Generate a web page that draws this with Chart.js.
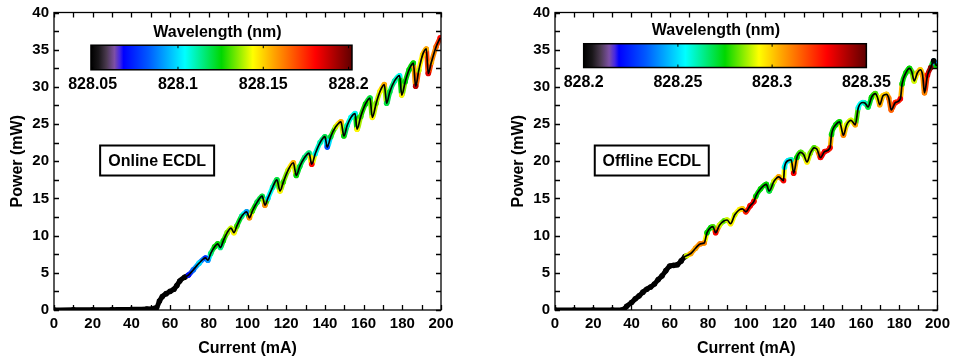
<!DOCTYPE html>
<html>
<head>
<meta charset="utf-8">
<script src="https://cdn.jsdelivr.net/npm/chart.js@4.4.1/dist/chart.umd.min.js"></script>
<style>
  html, body { margin: 0; padding: 0; background: #fff; }
  #wrap { display: flex; width: 956px; height: 360px; }
  canvas { display: block; }
</style>
</head>
<body>
<div id="wrap">
  <canvas id="online" width="478" height="360"></canvas>
  <canvas id="offline" width="478" height="360"></canvas>
</div>
<script>
// ---- Online ECDL: L-I curve (mA, mW) with measured wavelength (nm); null = not measured ----
const onlineCurrent = [
  0, 10, 20, 30, 40, 48, 52, 53, 54.5, 56, 58, 60, 62, 63.5, 65, 67.5,
  69.5, 72, 75, 78.3,   79.5, 81, 83, 84.6,   86, 87.5, 89.5, 91.5,
  93, 94.5, 97, 99.6,   101, 102.5, 105, 107.6,   109, 110.5, 113, 115.2,
  116.8, 118.5, 121, 123.7,   125.2, 127, 129.5, 131.8,   133.2, 135, 137.5, 140,
  141.2, 143, 145.5, 148.3,   149.8, 151.5, 153.5, 155.6,   156.6, 158.5, 161, 163.3,
  164.5, 166.5, 168.5, 170.7,   171.9, 173.5, 176, 178.6,   179.7, 181.5, 183.5, 185.7,
  186.9, 188.5, 190.5, 192.4,   193.4, 195, 197.5, 199.6
];
const onlinePower = [
  0, 0.02, 0.03, 0.05, 0.08, 0.14, 0.22, 0.3, 1.2, 1.8, 2.2, 2.5, 2.8, 3.3, 3.9, 4.4,
  4.7, 5.4, 6.3, 7.0,   6.7, 7.6, 8.5, 8.9,   8.4, 9.3, 10.4, 11.0,
  10.4, 11.3, 12.6, 13.2,   12.4, 13.3, 14.5, 15.3,   14.1, 15.0, 16.5, 17.5,
  16.0, 17.2, 18.8, 19.8,   18.1, 19.3, 20.5, 21.1,   19.6, 21.0, 22.5, 23.3,
  21.9, 23.3, 24.6, 25.3,   23.4, 24.8, 25.9, 26.4,   24.3, 26.0, 27.7, 28.5,
  25.9, 27.8, 29.4, 30.3,   27.8, 29.3, 30.8, 31.5,   28.9, 30.7, 32.3, 33.2,
  30.1, 32.2, 34.3, 35.1,   31.8, 33.3, 35.4, 36.6
];
const onlineWavelength = [
  null, null, null, null, null, null, null, null, null, null, null, null, null, null, null, null,
  828.07, 828.085, 828.1, 828.075,   828.09, 828.115, 828.125, 828.125,   828.115, 828.125, 828.135, 828.14,
  828.145, 828.13, 828.115, 828.09,   828.16, 828.13, 828.12, 828.12,   828.16, 828.1, 828.11, 828.12,
  828.145, 828.13, 828.14, 828.155,   828.125, 828.12, 828.115, 828.115,   828.18, 828.105, 828.11, 828.12,
  828.08, 828.12, 828.14, 828.155,   828.125, 828.11, 828.105, 828.105,   828.145, 828.13, 828.125, 828.12,
  828.145, 828.135, 828.145, 828.155,   828.12, 828.12, 828.11, 828.105,   828.145, 828.125, 828.125, 828.125,
  828.19, 828.14, 828.15, 828.155,   828.185, 828.155, 828.165, 828.18
];
const onlineBarTicks = [828.05, 828.1, 828.15, 828.2];
const onlineBarLabels = ['828.05', '828.1', '828.15', '828.2'];
const onlineBarRange = [828.049, 828.202];

// ---- Offline ECDL ----
const offlineCurrent = [
  0, 10, 20, 30, 35, 36, 37.5, 40, 42, 44, 46, 48, 50, 52, 54, 56, 58, 60, 62, 64, 66, 68,
  68.8, 71, 73.5, 76, 78,   79.5, 81.5, 82.6, 84,   86, 88.5, 90, 91.8,   94, 96.5, 98, 99.8,
  102, 104, 105, 107.5, 110.5, 112,   114.5, 117, 119.5,   120, 122, 123.5, 124.8,
  126.5, 128.5, 130, 131.8,   133.5, 135.5, 137, 138.8,   141, 143.8,
  144.6, 146.8, 148.8, 150.8,   152.5, 154.8, 157,   158.6, 161, 162.2, 163.7,
  165.5, 167.5, 168.6, 169.8,   171.5, 173.3, 174.5, 175.8,   178, 180.6,
  181.5, 183.5, 185.3, 186.6, 187.8,   189.5, 191, 192.2, 193.2,   194.8, 196.5, 198, 199.5
];
const offlinePower = [
  0, 0, 0, 0, 0, 0.1, 0.5, 1.0, 1.5, 1.9, 2.4, 2.8, 3.1, 3.5, 4.1, 4.6, 5.3, 5.9, 6.0, 6.1, 6.6, 7.2,
  7.3, 7.6, 8.3, 8.9, 9.0,   10.4, 11.1, 11.2, 10.4,   11.4, 12.0, 12.1, 11.6,   12.8, 13.5, 13.6, 13.2,
  14.0, 14.6, 15.3, 16.3, 16.9, 16.0,   17.3, 17.9, 17.4,   19.2, 20.1, 20.2, 18.4,
  20.5, 21.2, 20.9, 19.9,   21.1, 21.8, 21.6, 20.5,   21.3, 21.8,
  23.6, 24.9, 25.3, 23.5,   24.9, 25.5, 24.9,   27.2, 27.9, 27.8, 27.3,
  28.6, 29.1, 28.6, 27.6,   28.8, 29.0, 28.5, 26.9,   27.9, 28.4,
  30.4, 31.9, 32.5, 32.0, 30.8,   31.9, 32.3, 31.6, 29.2,   31.6, 32.6, 33.5, 32.8
];
const offlineWavelength = [
  null, null, null, null, null, null, null, null, null, null, null, null, null, null, null, null, null, null, null, null, null, null,
  828.29, 828.305, 828.305, 828.31, 828.31,   828.275, 828.275, 828.28, 828.33,   828.29, 828.28, 828.29, 828.295,   828.29, 828.295, 828.3, 828.325,
  828.33, 828.33, 828.275, 828.275, 828.275, 828.27,   828.29, 828.305, 828.33,   828.255, 828.25, 828.26, 828.33,
  828.275, 828.28, 828.285, 828.295,   828.285, 828.28, 828.29, 828.33,   828.33, 828.33,
  828.275, 828.275, 828.275, 828.31,   828.29, 828.29, 828.305,   828.255, 828.255, 828.26, 828.27,
  828.275, 828.28, 828.29, 828.305,   828.3, 828.3, 828.31, 828.315,   828.325, 828.33,
  828.275, 828.275, 828.275, 828.28, 828.29,   828.3, 828.3, 828.305, 828.31,   828.33, 828.345, 828.2, 828.275
];
const offlineBarTicks = [828.2, 828.25, 828.3, 828.35];
const offlineBarLabels = ['828.2', '828.25', '828.3', '828.35'];
const offlineBarRange = [828.2, 828.35];

// Axis tick marks (major labelled every 20 mA / 5 mW, minor marks in between)
const currentTickMarks = [0, 10, 20, 30, 40, 50, 60, 70, 80, 90, 100, 110, 120, 130, 140, 150, 160, 170, 180, 190, 200];
const powerTickMarks = [0, 2.5, 5, 7.5, 10, 12.5, 15, 17.5, 20, 22.5, 25, 27.5, 30, 32.5, 35, 37.5, 40];

const FONT = "'Liberation Sans', Arial, Helvetica, sans-serif";

// Colour map: black/violet start, then jet-like blue -> cyan -> green -> yellow -> red -> dark red
const CMAP = [
  [0.00, [0, 0, 0]],
  [0.03, [25, 22, 25]],
  [0.06, [75, 58, 80]],
  [0.09, [125, 80, 165]],
  [0.11, [70, 40, 225]],
  [0.125, [0, 0, 255]],
  [0.22, [0, 90, 255]],
  [0.36, [0, 255, 255]],
  [0.50, [0, 215, 0]],
  [0.62, [255, 255, 0]],
  [0.70, [255, 165, 0]],
  [0.86, [255, 0, 0]],
  [1.00, [95, 0, 0]]
];
function cmap(t) {
  t = Math.max(0, Math.min(1, t));
  for (let i = 1; i < CMAP.length; i++) {
    if (t <= CMAP[i][0]) {
      const [t0, c0] = CMAP[i - 1], [t1, c1] = CMAP[i];
      const f = (t - t0) / (t1 - t0);
      return 'rgb(' + c0.map((v, k) => Math.round(v + (c1[k] - v) * f)).join(',') + ')';
    }
  }
  return 'rgb(' + CMAP[CMAP.length - 1][1].join(',') + ')';
}

// Frame, inward ticks, colour bar and caption box
const panelDecor = {
  id: 'panelDecor',
  afterDatasetsDraw(chart, args, o) {
    const { ctx, chartArea: a, scales: { x, y } } = chart;
    ctx.save();
    ctx.strokeStyle = '#000';
    ctx.lineWidth = 1.3;
    ctx.strokeRect(a.left, a.top, a.right - a.left, a.bottom - a.top);
    ctx.beginPath();
    for (const v of currentTickMarks) {
      const px = Math.round(x.getPixelForValue(v)) + 0.5;
      ctx.moveTo(px, a.bottom); ctx.lineTo(px, a.bottom - 5);
      ctx.moveTo(px, a.top); ctx.lineTo(px, a.top + 5);
    }
    for (const v of powerTickMarks) {
      const py = Math.round(y.getPixelForValue(v)) + 0.5;
      ctx.moveTo(a.left, py); ctx.lineTo(a.left + 5, py);
      ctx.moveTo(a.right, py); ctx.lineTo(a.right - 5, py);
    }
    ctx.stroke();

    // colour bar
    const cb = o.colorbar;
    const L = x.getPixelForValue(cb.from), R = x.getPixelForValue(cb.to);
    const T = y.getPixelForValue(cb.top), B = y.getPixelForValue(cb.bottom);
    const g = ctx.createLinearGradient(L, 0, R, 0);
    for (const [t, c] of CMAP) g.addColorStop(t, 'rgb(' + c.join(',') + ')');
    ctx.fillStyle = g;
    ctx.fillRect(L, T, R - L, B - T);
    ctx.lineWidth = 1.5;
    ctx.strokeRect(L, T, R - L, B - T);
    const [lo, hi] = cb.range;
    ctx.fillStyle = '#000';
    ctx.font = 'bold 16px ' + FONT;
    ctx.textAlign = 'center';
    ctx.textBaseline = 'middle';
    ctx.lineWidth = 1;
    cb.ticks.forEach((v, i) => {
      const px = L + (v - lo) / (hi - lo) * (R - L);
      ctx.beginPath();
      ctx.moveTo(px, T); ctx.lineTo(px, T + 3);
      ctx.moveTo(px, B); ctx.lineTo(px, B - 3);
      ctx.stroke();
      ctx.fillText(cb.labels[i], px, B + 15);
    });
    ctx.fillText('Wavelength (nm)', (L + R) / 2 + cb.titleShift, T - 13);

    // caption box
    const cap = o.caption;
    const cx = x.getPixelForValue(cap.x), cy = y.getPixelForValue(cap.y);
    ctx.lineWidth = 2;
    ctx.strokeRect(cx - cap.w / 2, cy - cap.h / 2, cap.w, cap.h);
    ctx.fillText(cap.text, cx, cy + 1);
    ctx.restore();
  }
};

function makePanel(id, current, power, wavelength, pad, decor) {
  const range = decor.colorbar.range;
  const pts = current.map((c, i) => ({ x: c, y: power[i] }));
  const colorOf = w => (w == null ? '#000' : cmap((w - range[0]) / (range[1] - range[0])));
  const segColor = ctx => {
    const a = wavelength[ctx.p0DataIndex], b = wavelength[ctx.p1DataIndex];
    if (a == null || b == null) return '#000';
    return colorOf((a + b) / 2);
  };
  const tickFont = { family: FONT, size: 15, weight: 'bold', lineHeight: 1 };
  const titleFont = { family: FONT, size: 16, weight: 'bold', lineHeight: 1 };
  return new Chart(document.getElementById(id), {
    type: 'line',
    data: {
      datasets: [
        {
          // thin black trace, drawn on top
          data: pts,
          order: 0,
          borderWidth: 1.7,
          borderColor: '#000',
          pointRadius: 0,
          cubicInterpolationMode: 'monotone'
        },
        {
          // wavelength-coloured band underneath
          data: pts,
          order: 1,
          borderWidth: 5,
          borderColor: '#000',
          segment: { borderColor: segColor },
          borderCapStyle: 'round',
          borderJoinStyle: 'round',
          pointRadius: 2.8,
          pointBorderWidth: 0,
          pointBackgroundColor: wavelength.map(colorOf),
          cubicInterpolationMode: 'monotone'
        }
      ]
    },
    options: {
      responsive: false,
      animation: false,
      events: [],
      layout: { padding: pad },
      plugins: { legend: { display: false }, tooltip: { enabled: false }, panelDecor: decor },
      scales: {
        x: {
          type: 'linear', min: 0, max: 200,
          grid: { display: false, drawTicks: false },
          border: { display: false },
          ticks: { stepSize: 20, padding: 6, color: '#000', font: tickFont, maxRotation: 0, autoSkip: false },
          title: { display: true, text: 'Current (mA)', color: '#000', font: titleFont, padding: { top: 4, bottom: 3 } }
        },
        y: {
          type: 'linear', min: 0, max: 40,
          grid: { display: false, drawTicks: false },
          border: { display: false },
          ticks: { stepSize: 5, padding: 5, color: '#000', font: tickFont, autoSkip: false },
          title: { display: true, text: 'Power (mW)', color: '#000', font: titleFont, padding: { top: 10, bottom: 0 } },
          afterFit: s => { s.width = 54; }
        }
      }
    },
    plugins: [panelDecor]
  });
}

makePanel('online', onlineCurrent, onlinePower, onlineWavelength,
  { left: 0, right: 37, top: 12, bottom: 0 },
  {
    colorbar: { from: 19.1, to: 154, top: 35.6, bottom: 32.3, range: onlineBarRange,
                ticks: onlineBarTicks, labels: onlineBarLabels, titleShift: -4 },
    caption: { text: 'Online ECDL', x: 53.3, y: 20.1, w: 114, h: 30 }
  });

makePanel('offline', offlineCurrent, offlinePower, offlineWavelength,
  { left: 23, right: 14, top: 12, bottom: 0 },
  {
    colorbar: { from: 15, to: 162.8, top: 35.8, bottom: 32.6, range: offlineBarRange,
                ticks: offlineBarTicks, labels: offlineBarLabels, titleShift: -9 },
    caption: { text: 'Offline ECDL', x: 50.6, y: 20.1, w: 114, h: 30 }
  });
</script>
</body>
</html>
